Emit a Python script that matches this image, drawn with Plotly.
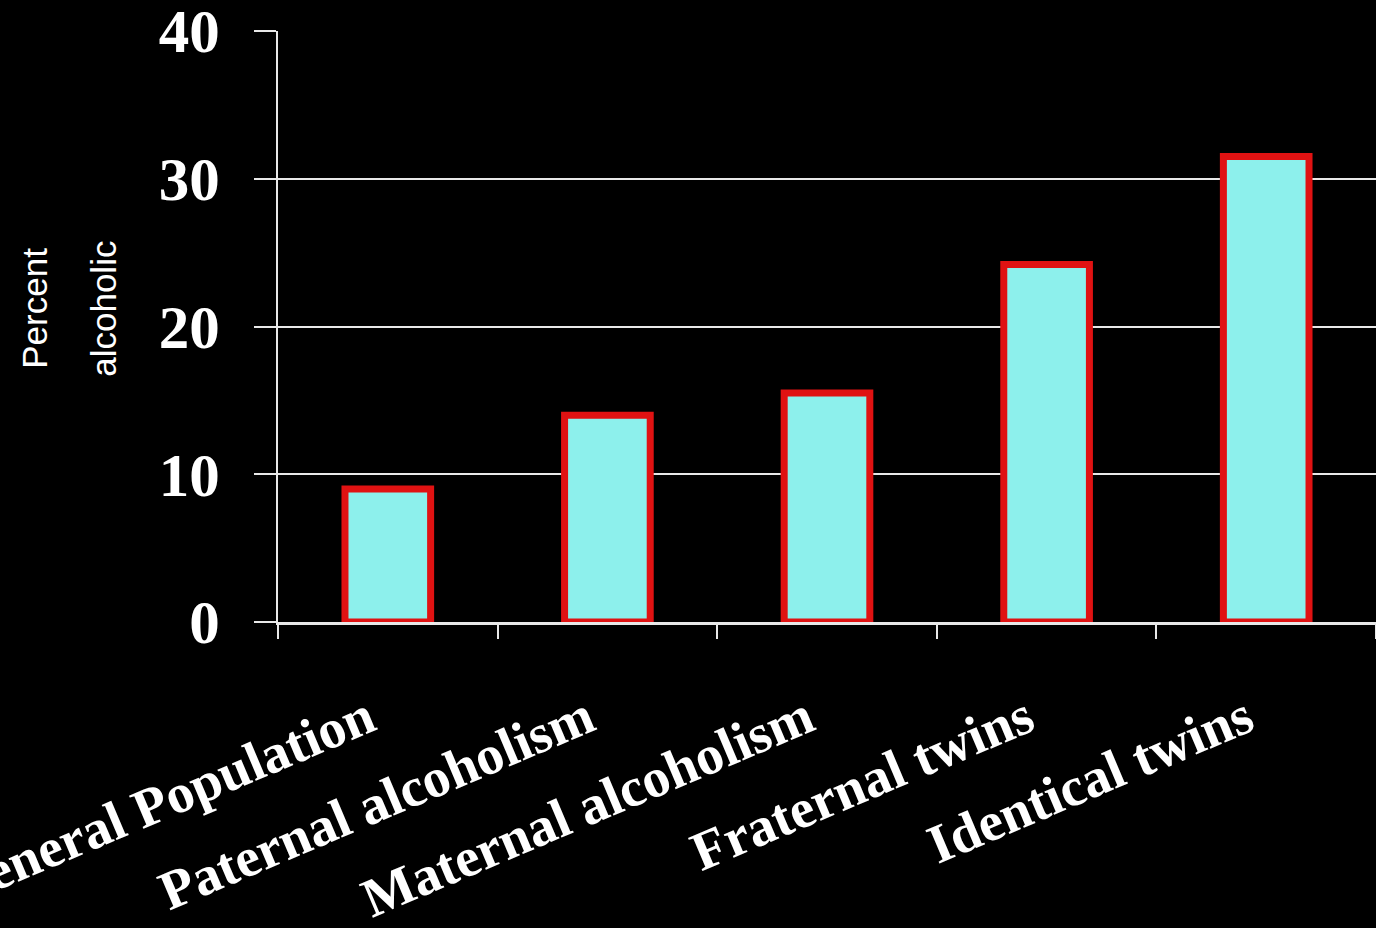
import plotly.graph_objects as go

categories = ["General Population", "Paternal alcoholism", "Maternal alcoholism",
              "Fraternal twins", "Identical twins"]
percent_alcoholic = [9, 14, 15.5, 24.2, 31.5]
y_ticks = [0, 10, 20, 30, 40]

fig = go.Figure(
    go.Bar(
        x=categories,
        y=percent_alcoholic,
        width=0.39,
        marker=dict(color="#8DF0EC", line=dict(color="#E01212", width=7)),
        hoverinfo="x+y",
    )
)

serif_bold = dict(family="Liberation Serif, Times New Roman, serif", color="white", weight="bold")

fig.update_layout(
    width=1376,
    height=928,
    paper_bgcolor="black",
    plot_bgcolor="black",
    margin=dict(l=278, r=0, t=31, b=306, autoexpand=False),
    showlegend=False,
    xaxis=dict(
        type="category",
        range=[-0.5, 4.5],
        automargin=False,
        showgrid=False,
        showline=True,
        linecolor="#e8e8e8",
        linewidth=3,
        ticks="outside",
        tickson="boundaries",
        ticklen=14,
        tickwidth=2,
        tickcolor="#e8e8e8",
        tickangle=-23,
        tickfont=dict(size=55, **serif_bold),
        ticklabelstandoff=40,
        ticklabelshift=-20,
        ticklabeloverflow="allow",
    ),
    yaxis=dict(
        range=[0, 40],
        tickvals=y_ticks,
        automargin=False,
        showgrid=True,
        gridcolor="#e8e8e8",
        gridwidth=2,
        zeroline=False,
        showline=True,
        linecolor="#e8e8e8",
        linewidth=2,
        ticks="outside",
        ticklen=22,
        tickwidth=2,
        tickcolor="#e8e8e8",
        tickfont=dict(size=61, **serif_bold),
        ticklabelstandoff=22,
        ticklabeloverflow="allow",
    ),
)

# Two-line y-axis caption set as rotated annotations
for text, xpos in [("Percent", 35), ("alcoholic", 104)]:
    fig.add_annotation(
        text=text,
        xref="paper", yref="y",
        x=(xpos - 278) / 1098, y=21.2,
        showarrow=False,
        textangle=-90,
        font=dict(family="Liberation Sans, Arial, sans-serif", size=35, color="white"),
        xanchor="center", yanchor="middle",
    )

fig.write_html("out.html")
